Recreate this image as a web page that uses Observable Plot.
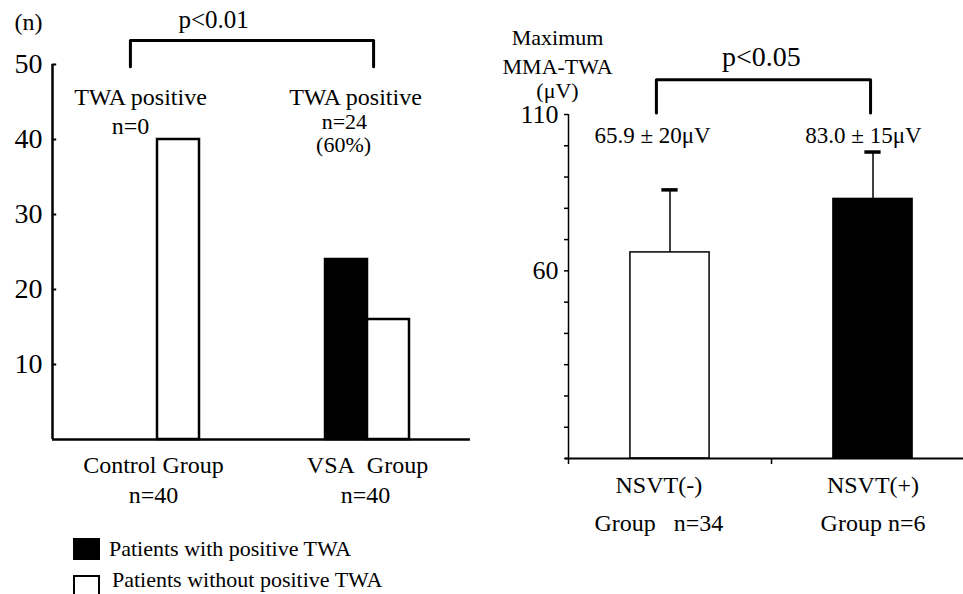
<!DOCTYPE html>
<html><head><meta charset="utf-8">
<script src="https://cdn.jsdelivr.net/npm/d3@7"></script>
<script src="https://cdn.jsdelivr.net/npm/@observablehq/plot@0.6"></script>
<style>
html,body{margin:0;padding:0;background:#fff;overflow:hidden;}
#wrap{position:relative;width:963px;height:594px;overflow:hidden;font-family:"Liberation Serif","Times New Roman",serif;color:#000;}
#left,#right{position:absolute;top:0;}
#left{left:0;width:480px;} #right{left:480px;width:494px;}
#left svg,#right svg{max-width:none !important;}
.sw{position:absolute;left:73px;width:27px;box-sizing:border-box;}
.lt{position:absolute;font-size:22px;line-height:1;white-space:pre;}
</style></head>
<body><div id="wrap"><div id="left"></div><div id="right"></div>
<div class="sw" style="top:538px;height:22px;background:#000;"></div>
<div class="lt" style="left:109px;top:538px;">Patients with positive TWA</div>
<div class="sw" style="top:575px;height:30px;border:2px solid #000;background:#fff;"></div>
<div class="lt" style="left:112px;top:569px;">Patients without positive TWA</div>
</div>
<script>
// ---- Left panel data ----
const groups = ["Control Group", "VSA\u00a0\u00a0Group"];
const groupN = [40, 40];
const positiveCounts = [0, 24];
const negativeCounts = [40, 16];
const leftTicks = [10, 20, 30, 40, 50];
const positivePct = [0, 60];

// ---- Right panel data ----
const nsvtGroups = ["NSVT(-)", "NSVT(+)"];
const nsvtN = [34, 6];
const twaMean = [65.9, 83.0];
const twaSD = [20, 15];
const rightTicks = [0, 10, 20, 30, 40, 50, 60, 70, 80, 90, 100, 110];
const rightTickLabels = [60, 110];

const font = "Liberation Serif";

// ---------- LEFT ----------
const leftBars = [];
groups.forEach((g, i) => {
  leftBars.push({group: g, kind: "pos", x1: i + 0.3, x2: i + 0.5, value: positiveCounts[i]});
  leftBars.push({group: g, kind: "neg", x1: i + 0.5, x2: i + 0.7, value: negativeCounts[i]});
});

const leftTexts = [
  {x: -0.114, y: 55.6, t: "(n)", s: 24},
  {x: 0.767, y: 56.0, t: "p<0.01", s: 25},
  {x: 0.419, y: 45.6, t: "TWA positive", s: 24},
  {x: 0.371, y: 41.8, t: "n=" + positiveCounts[0], s: 24},
  {x: 1.443, y: 45.6, t: "TWA positive", s: 24},
  {x: 1.390, y: 42.4, t: "n=" + positiveCounts[1], s: 22},
  {x: 1.386, y: 39.3, t: "(" + positivePct[1] + "%)", s: 22},
  {x: 0.481, y: -3.5, t: groups[0], s: 24},
  {x: 0.481, y: -7.5, t: "n=" + groupN[0], s: 24},
  {x: 1.5, y: -3.5, t: groups[1], s: 24},
  {x: 1.49, y: -7.5, t: "n=" + groupN[1], s: 24}
];

const left = Plot.plot({
  width: 480, height: 594,
  marginTop: 64, marginBottom: 155, marginLeft: 52, marginRight: 8,
  x: {domain: [0, 2], axis: null},
  y: {domain: [0, 50], axis: null},
  color: {type: "identity"},
  style: {fontFamily: font, background: "transparent", overflow: "visible", color: "#000", maxWidth: "none"},
  marks: [
    Plot.rectY(leftBars.filter(d => d.value > 0), {
      x1: "x1", x2: "x2", y1: 0, y2: "value",
      fill: d => d.kind === "pos" ? "#000" : "#fff", stroke: "#000", strokeWidth: 2.5
    }),
    Plot.ruleX([0], {y1: 0, y2: 50, strokeWidth: 2.5}),
    Plot.ruleY([0], {x1: 0, x2: 1.99, strokeWidth: 2.5}),
    Plot.ruleY(leftTicks, {y: d => d, x1: 0, x2: 0.02, strokeWidth: 2}),
    Plot.axisY({ticks: leftTicks, tickSize: 0, tickPadding: 10, fontSize: 28, fontFamily: font}),
    Plot.line([[0.371, 49.7], [0.371, 53.2], [1.529, 53.2], [1.529, 49.7]], {strokeWidth: 3}),
    ...[22, 24, 25].map(s => Plot.text(leftTexts.filter(d => d.s === s), {x: "x", y: "y", text: "t", fontSize: s, fontFamily: font, fill: "#000"}))
  ]
});
document.getElementById("left").appendChild(left);

// ---------- RIGHT ----------
const rightBars = nsvtGroups.map((g, i) => ({
  group: g, xc: i + 0.5, mean: twaMean[i], sd: twaSD[i], fill: i === 0 ? "#fff" : "#000"
}));

const rightTexts = [
  {x: -0.054, y: 134.6, t: "Maximum", s: 22},
  {x: -0.054, y: 125.3, t: "MMA-TWA", s: 22},
  {x: -0.054, y: 117.6, t: "(μV)", s: 22},
  {x: 0.414, y: 103.1, t: twaMean[0].toFixed(1) + "\u00a0±\u00a0" + twaSD[0] + "μV", s: 23},
  {x: 1.453, y: 103.1, t: twaMean[1].toFixed(1) + "\u00a0±\u00a0" + twaSD[1] + "μV", s: 23},
  {x: 0.445, y: -8.6, t: nsvtGroups[0], s: 24},
  {x: 0.445, y: -20.8, t: "Group\u00a0\u00a0\u00a0n=" + nsvtN[0], s: 24},
  {x: 1.5, y: -8.6, t: nsvtGroups[1], s: 24},
  {x: 1.5, y: -20.8, t: "Group n=" + nsvtN[1], s: 24},
  {x: 0.95, y: 128.3, t: "p<0.05", s: 28}
];

const right = Plot.plot({
  width: 494, height: 594,
  marginTop: 114, marginBottom: 136, marginLeft: 88, marginRight: 0,
  x: {domain: [0, 2], axis: null},
  y: {domain: [0, 110], axis: null},
  color: {type: "identity"},
  style: {fontFamily: font, background: "transparent", overflow: "visible", color: "#000", maxWidth: "none"},
  marks: [
    Plot.ruleX(rightBars, {x: "xc", y1: "mean", y2: d => d.mean + d.sd, strokeWidth: 1.5}),
    Plot.ruleY(rightBars, {y: d => d.mean + d.sd, x1: d => d.xc - 0.04, x2: d => d.xc + 0.04, strokeWidth: 3.5}),
    Plot.rectY(rightBars, {x1: d => d.xc - 0.195, x2: d => d.xc + 0.195, y1: 0, y2: "mean", fill: "fill", stroke: "#000", strokeWidth: 1.5}),
    Plot.ruleX([0], {y1: 0, y2: 110, strokeWidth: 1.5}),
    Plot.axisY({ticks: rightTicks, tickSize: 4, tickFormat: () => "", strokeWidth: 1.5}),
    Plot.axisY({ticks: rightTickLabels, tickSize: 0, tickPadding: 10, fontSize: 26, fontFamily: font}),
    Plot.ruleY([0], {x1: -0.015, x2: 2, strokeWidth: 2}),
    Plot.axisX({ticks: [0, 1], tickSize: 6, tickFormat: () => "", strokeWidth: 1.5}),
    Plot.line([[0.433, 110.5], [0.433, 121.1], [1.488, 121.1], [1.488, 110.5]], {strokeWidth: 3}),
    ...[22, 23, 24, 28].map(s => Plot.text(rightTexts.filter(d => d.s === s), {x: "x", y: "y", text: "t", fontSize: s, fontFamily: font, fill: "#000"}))
  ]
});
document.getElementById("right").appendChild(right);
</script>
</body></html>
